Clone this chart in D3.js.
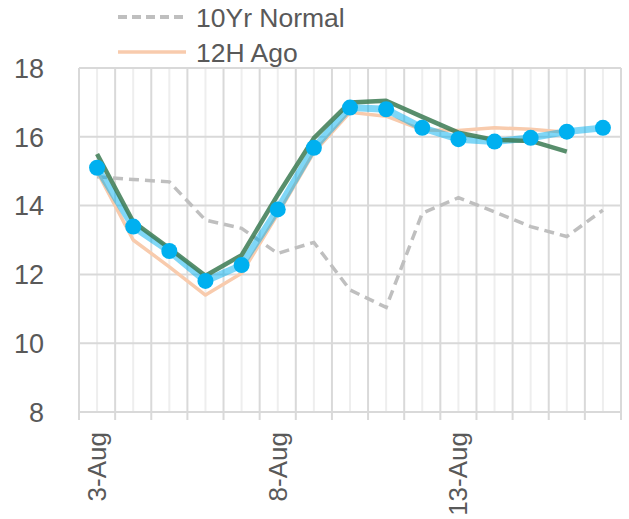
<!DOCTYPE html>
<html>
<head>
<meta charset="utf-8">
<script src="https://cdn.jsdelivr.net/npm/d3@7"></script>
<style>
    body { margin: 0; background: #ffffff; }
    svg text { font-family: "Liberation Sans", Arial, sans-serif; fill: #595959; }
</style>
</head>
<body>
<div class="LineChart"></div>
<script>
// categories (days) and tick labels
let days = ["3-Aug","4-Aug","5-Aug","6-Aug","7-Aug","8-Aug","9-Aug","10-Aug","11-Aug","12-Aug","13-Aug","14-Aug","15-Aug","16-Aug","17-Aug"];
let dayLabels = ["3-Aug","8-Aug","13-Aug"];
let yTicks = [8,10,12,14,16,18];

// series values
let normal10Yr = [14.84,14.76,14.69,13.58,13.34,12.61,12.93,11.55,11.04,13.78,14.23,13.82,13.39,13.10,13.87];
let ago12H     = [14.99,13.00,12.22,11.40,12.03,13.75,15.55,16.71,16.60,16.20,16.18,16.26,16.22,16.13];
let latest     = [15.10,13.39,12.68,11.81,12.27,13.89,15.68,16.85,16.80,16.26,15.93,15.86,15.97,16.15,16.26];
let otherRun   = [15.50,13.53,12.76,11.96,12.56,14.31,15.96,17.00,17.05,16.58,16.12,15.91,15.88,15.57];

let legendNames = ["10Yr Normal","12H Ago"];

class LineChart
{
    constructor()
    {
        this.margin = {top: 68, right: 8, bottom: 107, left: 79};
        this.width = 629;
        this.height = 519;
    }

    drawChart()
    {
        let that = this;
        let m = this.margin;

        let svg = d3.select(".LineChart")
                    .append("svg")
                    .attr("width", this.width)
                    .attr("height", this.height);

        let xScale = d3.scaleBand()
                       .domain(days)
                       .range([m.left, this.width - m.right]);

        let yScale = d3.scaleLinear()
                       .domain([8, 18])
                       .range([this.height - m.bottom, m.top]);

        let cx = d => xScale(d) + xScale.bandwidth() / 2;

        // minor vertical gridlines (day centres)
        svg.selectAll(".minorGrid")
           .data(days)
           .enter()
           .append("line")
           .attr("x1", d => cx(d))
           .attr("x2", d => cx(d))
           .attr("y1", yScale(18))
           .attr("y2", yScale(8))
           .attr("stroke", "#eeeeee")
           .attr("stroke-width", 2);

        // major vertical gridlines (day boundaries) + ticks below axis
        let bounds = days.map(d => xScale(d)).concat([xScale(days[days.length-1]) + xScale.bandwidth()]);
        svg.selectAll(".majorGrid")
           .data(bounds)
           .enter()
           .append("line")
           .attr("x1", d => d)
           .attr("x2", d => d)
           .attr("y1", yScale(18))
           .attr("y2", yScale(8) + 8)
           .attr("stroke", "#d9d9d9")
           .attr("stroke-width", 2);

        // horizontal gridlines
        svg.selectAll(".hGrid")
           .data(yTicks)
           .enter()
           .append("line")
           .attr("x1", m.left)
           .attr("x2", this.width - m.right)
           .attr("y1", d => yScale(d))
           .attr("y2", d => yScale(d))
           .attr("stroke", "#d9d9d9")
           .attr("stroke-width", 2);

        // y labels
        svg.selectAll(".yLabel")
           .data(yTicks)
           .enter()
           .append("text")
           .attr("x", 44)
           .attr("y", d => yScale(d))
           .attr("dy", "0.36em")
           .style("text-anchor", "end")
           .style("font-size", "27px")
           .text(d => d);

        // x labels, rotated
        svg.selectAll(".xLabel")
           .data(dayLabels)
           .enter()
           .append("text")
           .attr("transform", d => "translate(" + (cx(d) + 9) + "," + (yScale(8) + 20) + ") rotate(-90)")
           .style("text-anchor", "end")
           .style("font-size", "26px")
           .text(d => d);

        let line = d3.line()
                     .x((d, i) => cx(days[i]))
                     .y(d => yScale(d));

        svg.append("path")
           .datum(normal10Yr)
           .attr("d", line)
           .attr("fill", "none")
           .attr("stroke", "#bfbfbf")
           .attr("stroke-width", 3.5)
           .attr("stroke-dasharray", "10,6");

        svg.append("path")
           .datum(ago12H)
           .attr("d", line)
           .attr("fill", "none")
           .attr("stroke", "#f8cbad")
           .attr("stroke-width", 3.5)
           .attr("stroke-linejoin", "round");

        svg.append("path")
           .datum(latest)
           .attr("d", line)
           .attr("fill", "none")
           .attr("stroke", "#00b0f0")
           .attr("stroke-opacity", 0.5)
           .attr("stroke-width", 7)
           .attr("stroke-linejoin", "round");

        svg.append("path")
           .datum(otherRun)
           .attr("d", line)
           .attr("fill", "none")
           .attr("stroke", "#3b7a52")
           .attr("stroke-opacity", 0.85)
           .attr("stroke-width", 4.5)
           .attr("stroke-linejoin", "round");

        svg.selectAll(".dot")
           .data(latest)
           .enter()
           .append("circle")
           .attr("cx", (d, i) => cx(days[i]))
           .attr("cy", d => yScale(d))
           .attr("r", 8)
           .attr("fill", "#00b0f0");

        // legend
        let legend = svg.selectAll(".legend")
                        .data(legendNames)
                        .enter()
                        .append("g")
                        .attr("transform", (d, i) => "translate(118," + (17 + i * 35) + ")");

        legend.append("line")
              .attr("x1", 0)
              .attr("x2", 68)
              .attr("stroke", (d, i) => i == 0 ? "#bfbfbf" : "#f8cbad")
              .attr("stroke-width", (d, i) => i == 0 ? 4 : 3.5)
              .attr("stroke-dasharray", (d, i) => i == 0 ? "9,5" : null);

        legend.append("text")
              .attr("x", 78)
              .attr("dy", "0.36em")
              .style("font-size", "26.5px")
              .text(d => d);
    }
}

let chart = new LineChart();
chart.drawChart();
</script>
</body>
</html>
